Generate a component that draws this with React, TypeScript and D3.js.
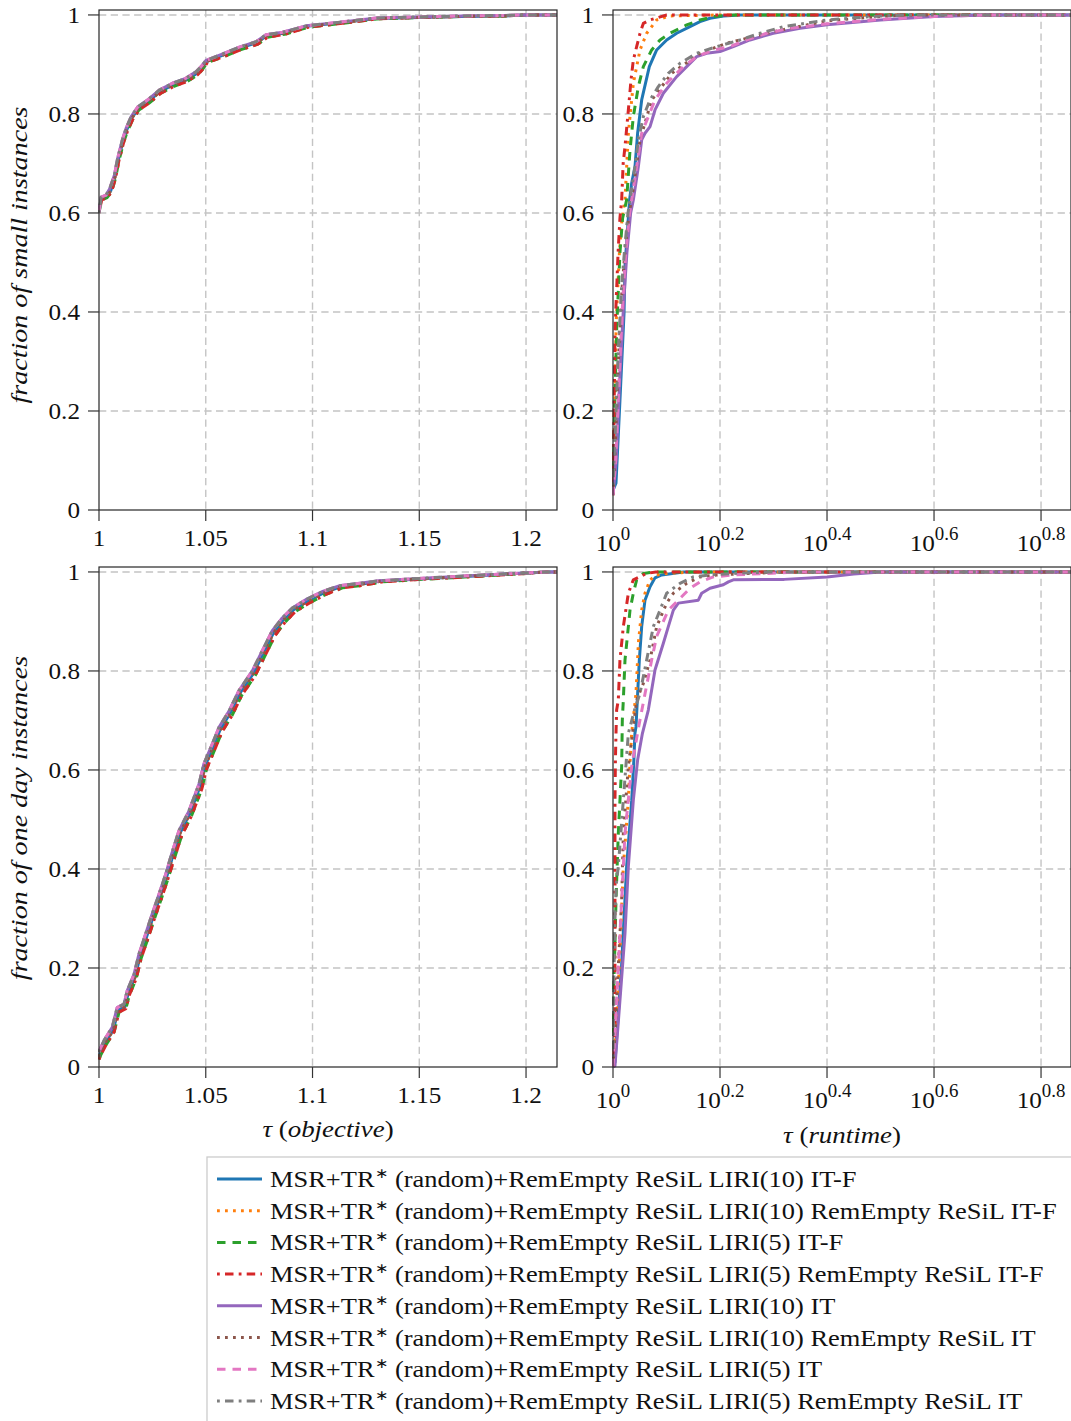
import React from 'react';
import * as d3 from 'd3';

// ---------- series meta ----------
const SUFFIXES = [
  'LIRI(10) IT-F',
  'LIRI(10) RemEmpty ReSiL IT-F',
  'LIRI(5) IT-F',
  'LIRI(5) RemEmpty ReSiL IT-F',
  'LIRI(10) IT',
  'LIRI(10) RemEmpty ReSiL IT',
  'LIRI(5) IT',
  'LIRI(5) RemEmpty ReSiL IT',
];
const COLORS = ['#1f77b4', '#ff7f0e', '#2ca02c', '#d62728', '#9467bd', '#8c564b', '#e377c2', '#7f7f7f'];
const DASHES = ['', '2.8 5.2', '8.5 7', '2.8 5.2 8.5 5.2', '', '2.8 5.2', '8.5 7', '2.8 5.2 8.5 5.2'];

// ---------- tick values ----------
const Y_TICKS = [0, 0.2, 0.4, 0.6, 0.8, 1];
const OBJ_TICKS = [1, 1.05, 1.1, 1.15, 1.2];
const RT_EXP_TICKS = [0, 0.2, 0.4, 0.6, 0.8];

// ---------- small instances, objective (tau, fraction) ----------
const SO_A: [number, number][] = [[1,0.6],[1,0.606],[1.0013,0.63],[1.0036,0.633],[1.0055,0.645],[1.0075,0.673],[1.009,0.707],[1.0114,0.747],[1.013,0.768],[1.0153,0.791],[1.0184,0.811],[1.023,0.825],[1.0286,0.845],[1.0348,0.859],[1.041,0.869],[1.0458,0.882],[1.048,0.892],[1.0504,0.906],[1.058,0.919],[1.066,0.933],[1.0739,0.944],[1.0785,0.958],[1.0863,0.963],[1.0973,0.977],[1.113,0.984],[1.13,0.993],[1.15,0.995],[1.17,0.997],[1.19,0.998],[1.2,1],[1.2145,1]];
const SO_B: [number, number][] = [[1,0.6],[1.0012,0.626],[1.0038,0.631],[1.0058,0.642],[1.0078,0.671],[1.0093,0.705],[1.0117,0.745],[1.0134,0.766],[1.0157,0.788],[1.0187,0.808],[1.0235,0.822],[1.029,0.842],[1.0352,0.856],[1.0415,0.866],[1.0462,0.879],[1.0485,0.89],[1.0508,0.904],[1.0585,0.916],[1.0665,0.93],[1.0745,0.941],[1.079,0.955],[1.087,0.961],[1.0978,0.975],[1.114,0.983],[1.13,0.992],[1.15,0.995],[1.17,0.997],[1.19,0.998],[1.2,1],[1.2145,1]];
const SO_C: [number, number][] = [[1,0.6],[1.001,0.632],[1.0033,0.636],[1.005,0.649],[1.0072,0.676],[1.0087,0.71],[1.0111,0.75],[1.0127,0.771],[1.015,0.794],[1.0181,0.814],[1.0227,0.828],[1.0282,0.848],[1.0344,0.862],[1.0406,0.872],[1.0454,0.885],[1.0477,0.895],[1.0501,0.908],[1.0577,0.921],[1.0657,0.935],[1.0736,0.946],[1.0782,0.96],[1.086,0.965],[1.097,0.978],[1.112,0.985],[1.13,0.994],[1.15,0.996],[1.17,0.998],[1.19,0.999],[1.2,1],[1.2145,1]];

// ---------- small instances, runtime (log10 tau, fraction) ----------
const SR_BLUE: [number, number][] = [[0,0.04],[0.0056,0.054],[0.013,0.222],[0.0206,0.397],[0.0224,0.492],[0.031,0.6263],[0.0349,0.66],[0.0411,0.6936],[0.046,0.761],[0.0536,0.8283],[0.0679,0.8956],[0.0816,0.9293],[0.1003,0.9495],[0.119,0.963],[0.1439,0.9764],[0.1626,0.9865],[0.1813,0.9933],[0.2062,0.998],[0.2374,1],[0.856,1]];
const SR_ORANGE: [number, number][] = [[0,0.03],[0.003,0.2],[0.006,0.38],[0.012,0.52],[0.017,0.59],[0.0224,0.6263],[0.0287,0.761],[0.038,0.862],[0.0505,0.9293],[0.063,0.963],[0.0817,0.99],[0.1065,0.998],[0.2,1],[0.856,1]];
const SR_GREEN: [number, number][] = [[0,0.05],[0.003,0.2],[0.007,0.37],[0.013,0.52],[0.018,0.59],[0.0255,0.6263],[0.0318,0.7273],[0.038,0.7946],[0.0474,0.8552],[0.0567,0.8956],[0.0723,0.9293],[0.0879,0.9495],[0.1065,0.963],[0.1377,0.9798],[0.1626,0.9899],[0.1875,0.9966],[0.2249,1],[0.856,1]];
const SR_RED: [number, number][] = [[0,0.04],[0.002,0.2],[0.004,0.37],[0.0095,0.52],[0.013,0.59],[0.0162,0.6263],[0.019,0.7],[0.0224,0.734],[0.0287,0.808],[0.0337,0.869],[0.038,0.909],[0.0442,0.936],[0.0505,0.963],[0.0567,0.983],[0.0692,0.99],[0.1003,1],[0.856,1]];
const SR_PURPLE: [number, number][] = [[0,0.03],[0.006,0.1],[0.012,0.25],[0.02,0.42],[0.026,0.52],[0.033,0.6],[0.038,0.6263],[0.0474,0.6936],[0.0536,0.7475],[0.0598,0.761],[0.0692,0.7744],[0.0785,0.8081],[0.0941,0.8418],[0.119,0.8754],[0.1377,0.8956],[0.1564,0.9158],[0.1751,0.9226],[0.2,0.926],[0.2249,0.936],[0.2561,0.9495],[0.2997,0.963],[0.3495,0.9731],[0.4,0.98],[0.5,0.99],[0.6,0.997],[0.7,1],[0.856,1]];
const SR_BROWN: [number, number][] = [[0,0.03],[0.004,0.12],[0.01,0.3],[0.017,0.45],[0.023,0.53],[0.03,0.6],[0.0349,0.6263],[0.0505,0.7475],[0.0723,0.8283],[0.1097,0.8822],[0.1626,0.9226],[0.2125,0.9428],[0.2872,0.963],[0.3308,0.9731],[0.4,0.988],[0.5,0.997],[0.55,1],[0.856,1]];
const SR_PINK: [number, number][] = [[0,0.03],[0.005,0.1],[0.011,0.25],[0.018,0.42],[0.024,0.52],[0.031,0.6],[0.0349,0.6263],[0.0442,0.6936],[0.0536,0.761],[0.066,0.7946],[0.0785,0.8283],[0.1003,0.862],[0.1315,0.8956],[0.1564,0.9158],[0.1875,0.9293],[0.2187,0.936],[0.2498,0.9495],[0.2872,0.963],[0.3308,0.9731],[0.4,0.982],[0.5,0.991],[0.6,0.997],[0.7,1],[0.856,1]];
const SR_GRAY: [number, number][] = [[0,0.05],[0.004,0.15],[0.009,0.3],[0.016,0.45],[0.022,0.53],[0.028,0.6],[0.0318,0.6263],[0.0411,0.6936],[0.0474,0.7475],[0.0567,0.7946],[0.0692,0.8283],[0.0847,0.8552],[0.1034,0.8822],[0.1252,0.9024],[0.1564,0.9226],[0.1938,0.936],[0.2374,0.9495],[0.2748,0.963],[0.3184,0.9764],[0.4,0.99],[0.5,0.998],[0.55,1],[0.856,1]];

// ---------- one day instances, objective ----------
const DO_A: [number, number][] = [[1,0.02],[1.0005,0.028],[1.0028,0.048],[1.0067,0.075],[1.009,0.115],[1.0122,0.122],[1.0137,0.149],[1.0169,0.182],[1.0192,0.223],[1.0223,0.263],[1.0254,0.304],[1.0286,0.344],[1.0317,0.384],[1.0345,0.425],[1.0379,0.472],[1.0426,0.5125],[1.0473,0.566],[1.0496,0.607],[1.0535,0.647],[1.0567,0.681],[1.0614,0.7145],[1.066,0.755],[1.0723,0.795],[1.077,0.836],[1.0816,0.876],[1.0863,0.903],[1.091,0.923],[1.0973,0.94],[1.105,0.957],[1.1129,0.97],[1.1207,0.974],[1.1316,0.981],[1.15,0.986],[1.18,0.993],[1.2,0.998],[1.21,1],[1.2145,1]];
const DO_B: [number, number][] = [[1,0.015],[1.0008,0.024],[1.0032,0.044],[1.0071,0.071],[1.0094,0.111],[1.0126,0.118],[1.0142,0.145],[1.0174,0.178],[1.0197,0.219],[1.0229,0.259],[1.026,0.3],[1.0292,0.34],[1.0323,0.38],[1.0352,0.42],[1.0387,0.467],[1.0434,0.508],[1.0481,0.561],[1.0504,0.602],[1.0543,0.642],[1.0576,0.677],[1.0623,0.71],[1.0669,0.751],[1.0732,0.791],[1.0779,0.832],[1.0825,0.872],[1.0872,0.899],[1.092,0.92],[1.0984,0.937],[1.106,0.954],[1.114,0.968],[1.122,0.972],[1.133,0.98],[1.151,0.985],[1.181,0.992],[1.2,0.997],[1.21,1],[1.2145,1]];
const DO_C: [number, number][] = [[1,0.03],[1.0003,0.034],[1.0024,0.054],[1.0062,0.08],[1.0085,0.12],[1.0117,0.127],[1.0132,0.154],[1.0164,0.187],[1.0187,0.228],[1.0218,0.268],[1.0249,0.309],[1.0281,0.349],[1.0312,0.389],[1.034,0.43],[1.0374,0.477],[1.0421,0.517],[1.0468,0.571],[1.0491,0.612],[1.053,0.652],[1.0562,0.686],[1.0609,0.719],[1.0655,0.76],[1.0718,0.8],[1.0765,0.841],[1.0811,0.881],[1.0858,0.907],[1.0905,0.927],[1.0968,0.944],[1.1044,0.96],[1.1124,0.972],[1.1202,0.976],[1.131,0.982],[1.15,0.987],[1.18,0.994],[1.2,0.998],[1.21,1],[1.2145,1]];

// ---------- one day instances, runtime (log10 tau, fraction) ----------
const DR_BLUE: [number, number][] = [[0,0],[0.0037,0.01],[0.016,0.203],[0.0255,0.405],[0.035,0.539],[0.039,0.62],[0.041,0.674],[0.043,0.6875],[0.0461,0.755],[0.0492,0.822],[0.0536,0.8896],[0.0598,0.943],[0.0692,0.97],[0.0785,0.988],[0.091,0.994],[0.1315,1],[0.856,1]];
const DR_ORANGE: [number, number][] = [[0,0.02],[0.0062,0.068],[0.0143,0.27],[0.0193,0.405],[0.0287,0.539],[0.032,0.62],[0.0349,0.674],[0.043,0.755],[0.0474,0.856],[0.0536,0.923],[0.0598,0.957],[0.0692,0.984],[0.0816,0.994],[0.1003,0.997],[0.15,1],[0.856,1]];
const DR_GREEN: [number, number][] = [[0,0],[0.001,0.15],[0.0037,0.25],[0.0056,0.337],[0.0099,0.472],[0.0162,0.607],[0.0174,0.7],[0.0193,0.741],[0.0224,0.822],[0.0287,0.8896],[0.0318,0.923],[0.038,0.957],[0.0442,0.984],[0.0567,0.997],[0.075,1],[0.856,1]];
const DR_RED: [number, number][] = [[0,0],[0.0037,0.068],[0.0037,0.539],[0.0045,0.62],[0.0056,0.674],[0.0068,0.721],[0.0099,0.741],[0.013,0.822],[0.0193,0.8896],[0.0287,0.957],[0.038,0.984],[0.0629,0.997],[0.08,1],[0.856,1]];
const DR_PURPLE: [number, number][] = [[0,0],[0.0037,0.002],[0.013,0.135],[0.0224,0.27],[0.0287,0.405],[0.038,0.539],[0.046,0.62],[0.055,0.674],[0.066,0.721],[0.0785,0.802],[0.0941,0.856],[0.1034,0.8896],[0.1128,0.923],[0.1221,0.937],[0.1595,0.943],[0.1657,0.957],[0.1813,0.967],[0.2062,0.974],[0.2156,0.98],[0.2249,0.984],[0.32,0.985],[0.4,0.99],[0.45,0.996],[0.5,1],[0.856,1]];
const DR_BROWN: [number, number][] = [[0,0],[0.0037,0.068],[0.0099,0.203],[0.0162,0.337],[0.0193,0.472],[0.0287,0.607],[0.0442,0.741],[0.0567,0.775],[0.0692,0.822],[0.0816,0.8896],[0.1003,0.937],[0.1128,0.957],[0.1377,0.977],[0.1626,0.99],[0.1938,0.994],[0.2561,0.997],[0.32,1],[0.856,1]];
const DR_PINK: [number, number][] = [[0,0],[0.0037,0.068],[0.0099,0.203],[0.0162,0.337],[0.0224,0.472],[0.0349,0.607],[0.048,0.6875],[0.06,0.755],[0.0722,0.822],[0.0816,0.87],[0.0941,0.9],[0.1034,0.923],[0.1221,0.943],[0.1439,0.967],[0.1626,0.98],[0.1875,0.99],[0.2249,0.994],[0.2872,0.997],[0.35,1],[0.856,1]];
const DR_GRAY: [number, number][] = [[0,0.02],[0.002,0.2],[0.0037,0.3],[0.0062,0.37],[0.0099,0.405],[0.0193,0.539],[0.0287,0.674],[0.04,0.72],[0.0505,0.755],[0.0629,0.822],[0.0754,0.8896],[0.0879,0.923],[0.1003,0.957],[0.1252,0.977],[0.15,0.99],[0.1813,0.994],[0.2249,0.997],[0.3,1],[0.856,1]];

const SMALL_OBJ = [SO_A, SO_A, SO_B, SO_B, SO_C, SO_A, SO_C, SO_C];
const SMALL_RT = [SR_BLUE, SR_ORANGE, SR_GREEN, SR_RED, SR_PURPLE, SR_BROWN, SR_PINK, SR_GRAY];
const DAY_OBJ = [DO_A, DO_A, DO_B, DO_B, DO_C, DO_A, DO_C, DO_C];
const DAY_RT = [DR_BLUE, DR_ORANGE, DR_GREEN, DR_RED, DR_PURPLE, DR_BROWN, DR_PINK, DR_GRAY];

const FONT = '"Liberation Serif", "Times New Roman", serif';
const SX = 1.15; // horizontal stretch emulating Computer Modern widths
const LW = 3;

type Panel = {
  kind: 'obj' | 'rt';
  x0: number; x1: number; y0: number; y1: number;
  series: [number, number][][];
};

function PanelView({ p }: { p: Panel }) {
  const x = p.kind === 'obj'
    ? d3.scaleLinear().domain([1, 1.2145]).range([p.x0, p.x1])
    : d3.scaleLinear().domain([0, 0.856]).range([p.x0, p.x1]);
  const y = d3.scaleLinear().domain([0, 1.01]).range([p.y1, p.y0]);
  const xt = p.kind === 'obj' ? OBJ_TICKS : RT_EXP_TICKS;
  const line = d3.line<[number, number]>().x(d => x(d[0])).y(d => y(d[1]));
  const clipId = `clip-${p.x0}-${p.y0}`;
  const tickLen = 11;
  return (
    <g>
      <defs>
        <clipPath id={clipId}>
          <rect x={p.x0 - 1} y={p.y0 - 2} width={p.x1 - p.x0 + 3} height={p.y1 - p.y0 + 4} />
        </clipPath>
      </defs>
      {Y_TICKS.filter(t => t > 0).map(t => (
        <line key={'gy' + t} x1={p.x0} x2={p.x1} y1={y(t)} y2={y(t)} stroke="#c4c4c4" strokeWidth={1.4} strokeDasharray="7.3 4.4" />
      ))}
      {xt.filter((t, i) => i > 0).map(t => (
        <line key={'gx' + t} x1={x(t)} x2={x(t)} y1={p.y0} y2={p.y1} stroke="#c4c4c4" strokeWidth={1.4} strokeDasharray="7.3 4.4" />
      ))}
      <g clipPath={`url(#${clipId})`}>
        {p.series.map((s, i) => (
          <path key={i} d={line(s) || ''} fill="none" stroke={COLORS[i]} strokeWidth={LW}
            strokeDasharray={DASHES[i] || undefined} strokeLinejoin="round" />
        ))}
      </g>
      <rect x={p.x0} y={p.y0} width={p.x1 - p.x0} height={p.y1 - p.y0} fill="none" stroke="#262626" strokeWidth={1.2} />
      {Y_TICKS.map(t => (
        <g key={'ty' + t}>
          <line x1={p.x0 - tickLen} x2={p.x0} y1={y(t)} y2={y(t)} stroke="#333" strokeWidth={1.2} />
          <g transform={`translate(${p.x0 - 19},${y(t) + 8}) scale(1.05,1)`}>
            <text textAnchor="end" fontFamily={FONT} fontSize={24} fill="#111">
              {t === 0 ? '0' : t === 1 ? '1' : String(t)}
            </text>
          </g>
        </g>
      ))}
      {xt.map(t => (
        <g key={'tx' + t}>
          <line x1={x(t)} x2={x(t)} y1={p.y1} y2={p.y1 + tickLen} stroke="#333" strokeWidth={1.2} />
          {p.kind === 'obj' ? (
            <g transform={`translate(${x(t)},${p.y1 + 36}) scale(1.05,1)`}>
              <text textAnchor="middle" fontFamily={FONT} fontSize={24} fill="#111">{String(t)}</text>
            </g>
          ) : (
            <g transform={`translate(${x(t)},${p.y1 + 41}) scale(1.05,1)`}>
              <text textAnchor="middle" fontFamily={FONT} fontSize={24} fill="#111">
                10<tspan dy={-11} fontSize={18}>{String(t)}</tspan>
              </text>
            </g>
          )}
        </g>
      ))}
    </g>
  );
}

export default function App() {
  const W = 1071, H = 1421;
  const panels: Panel[] = [
    { kind: 'obj', x0: 99, x1: 557, y0: 10, y1: 510, series: SMALL_OBJ },
    { kind: 'rt', x0: 613, x1: 1071, y0: 10, y1: 510, series: SMALL_RT },
    { kind: 'obj', x0: 99, x1: 557, y0: 567, y1: 1067, series: DAY_OBJ },
    { kind: 'rt', x0: 613, x1: 1071, y0: 567, y1: 1067, series: DAY_RT },
  ];
  const legX = 207, legY = 1157, rowH = 31.7, firstRow = 1179;
  return (
    <svg width={W} height={H} style={{ position: 'absolute', left: 0, top: 0, background: '#fff' }}>
      <rect x={0} y={0} width={W} height={H} fill="#fff" />
      {panels.map((p, i) => <PanelView key={i} p={p} />)}
      <g transform="translate(27,255) rotate(-90) scale(1.17,1)">
        <text textAnchor="middle" fontFamily={FONT} fontStyle="italic" fontSize={24} fill="#111">fraction of small instances</text>
      </g>
      <g transform="translate(27,818) rotate(-90) scale(1.17,1)">
        <text textAnchor="middle" fontFamily={FONT} fontStyle="italic" fontSize={24} fill="#111">fraction of one day instances</text>
      </g>
      <g transform={`translate(328,1137) scale(1.12,1)`}>
        <text textAnchor="middle" fontFamily={FONT} fontSize={24} fill="#111">
          <tspan fontStyle="italic">τ</tspan> (<tspan fontStyle="italic">objective</tspan>)
        </text>
      </g>
      <g transform={`translate(842,1143) scale(1.12,1)`}>
        <text textAnchor="middle" fontFamily={FONT} fontSize={24} fill="#111">
          <tspan fontStyle="italic">τ</tspan> (<tspan fontStyle="italic">runtime</tspan>)
        </text>
      </g>
      <rect x={legX} y={legY} width={W - legX + 5} height={H - legY + 5} fill="#fff" stroke="#cccccc" strokeWidth={1.3} />
      {SUFFIXES.map((s, i) => {
        const ry = firstRow + i * rowH;
        return (
          <g key={'lg' + i}>
            <line x1={217} x2={262} y1={ry} y2={ry} stroke={COLORS[i]} strokeWidth={LW} strokeDasharray={DASHES[i] || undefined} />
            <g transform={`translate(270,${ry + 8}) scale(${SX},1)`}>
              <text fontFamily={FONT} fontSize={23} fill="#111">
                MSR+TR<tspan dy={-9} fontSize={14}>∗</tspan><tspan dy={9}>{'  '}(random)+RemEmpty ReSiL {s}</tspan>
              </text>
            </g>
          </g>
        );
      })}
    </svg>
  );
}
